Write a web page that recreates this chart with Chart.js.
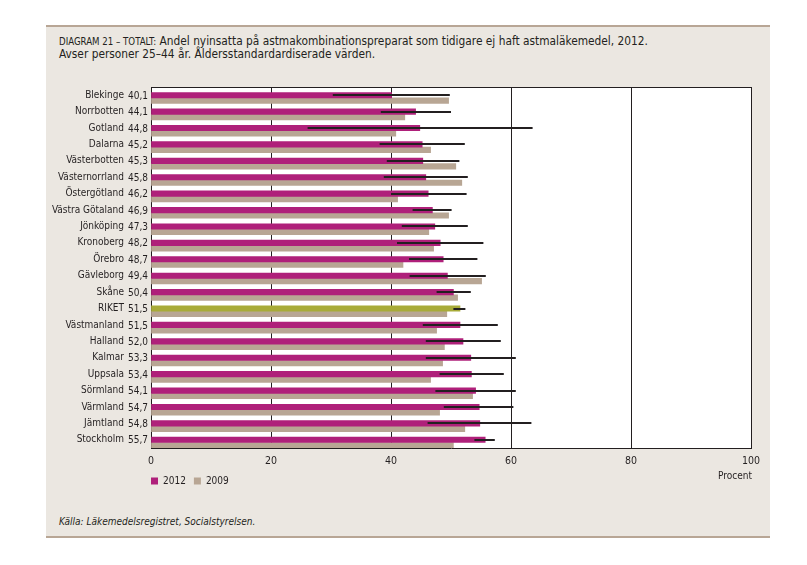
<!DOCTYPE html>
<html>
<head>
<meta charset="utf-8">
<script src="https://cdn.jsdelivr.net/npm/chart.js@4.4.1/dist/chart.umd.min.js"></script>
<style>
html,body{margin:0;padding:0;background:#ffffff;width:807px;height:565px;overflow:hidden;}
#panel{position:absolute;left:46px;top:25px;width:724px;height:513px;background:#ebe7e1;border-top:2px solid #b8a695;border-bottom:2px solid #b8a695;box-sizing:border-box;}
#title{position:absolute;left:59px;top:35px;font-family:"DejaVu Sans Condensed","DejaVu Sans",sans-serif;font-size:11.8px;line-height:13px;color:#231f20;white-space:nowrap;}
#title .caps{font-size:9.6px;}
#source{position:absolute;left:59px;top:516px;font-family:"DejaVu Sans Condensed","DejaVu Sans",sans-serif;font-style:italic;font-size:10px;color:#231f20;white-space:nowrap;}
#wrap{position:absolute;left:47px;top:70px;width:723px;height:426px;}
</style>
</head>
<body>
<div id="panel"></div>
<div id="title"><span class="caps">DIAGRAM 21 – TOTALT:</span> Andel nyinsatta på astmakombinationspreparat som tidigare ej haft astmaläkemedel, 2012.<br>Avser personer 25–44 år. Åldersstandardardiserade värden.</div>
<div id="wrap"><canvas id="c"></canvas></div>
<div id="source">Källa: Läkemedelsregistret, Socialstyrelsen.</div>
<script>
// ---- data ----
const categories = ['Blekinge','Norrbotten','Gotland','Dalarna','Västerbotten','Västernorrland','Östergötland','Västra Götaland','Jönköping','Kronoberg','Örebro','Gävleborg','Skåne','RIKET','Västmanland','Halland','Kalmar','Uppsala','Sörmland','Värmland','Jämtland','Stockholm'];
const values2012 = [40.1,44.1,44.8,45.2,45.3,45.8,46.2,46.9,47.3,48.2,48.7,49.4,50.4,51.5,51.5,52.0,53.3,53.4,54.1,54.7,54.8,55.7];
const values2009 = [49.6,42.3,40.8,46.6,50.8,51.8,41.1,49.6,46.3,47.1,42.0,55.1,51.1,49.3,47.6,48.9,48.6,46.6,53.6,48.1,52.3,50.4];
const ciLow2012  = [30.3,38.3,26.1,38.1,39.3,38.8,40.0,43.6,41.8,41.0,43.0,43.1,47.6,50.4,45.3,45.8,45.8,48.1,47.4,48.8,46.1,53.9];
const ciHigh2012 = [49.8,50.0,63.6,52.3,51.4,52.8,52.6,50.1,52.8,55.4,54.4,55.8,53.3,52.4,57.8,58.3,60.8,58.8,60.8,60.4,63.4,57.3];
const seriesNames = ['2012','2009'];
const axisTitle = 'Procent';
const totalCategory = 'RIKET';

// ---- styling ----
const FONT = '"DejaVu Sans Condensed","DejaVu Sans",sans-serif';
const INK = '#231f20';
const MAGENTA = '#af207a';
const TAN = '#b8a694';
const OLIVE = '#a8ab38';

const frame = {
  id: 'frame',
  beforeDraw(chart) {
    const {ctx, chartArea: a} = chart;
    ctx.save();
    ctx.fillStyle = '#ffffff';
    ctx.fillRect(a.left, a.top, a.right - a.left, a.bottom - a.top);
    ctx.restore();
  },
  beforeDatasetsDraw(chart) {
    const {ctx, chartArea: a} = chart;
    ctx.save();
    ctx.strokeStyle = INK;
    ctx.lineWidth = 1;
    ctx.beginPath();
    ctx.moveTo(a.left, Math.round(a.top) + 0.5);
    ctx.lineTo(a.right, Math.round(a.top) + 0.5);
    ctx.stroke();
    ctx.restore();
  },
  afterLayout(chart) {
    const lg = chart.legend;
    if (lg) { lg.left = chart.chartArea.left - lg.options.labels.padding; }
  },
  afterDatasetsDraw(chart) {
    // confidence intervals of 2012, centred on the 2012 bars
    const {ctx} = chart;
    const xs = chart.scales.x;
    const meta = chart.getDatasetMeta(1);
    ctx.save();
    ctx.strokeStyle = INK;
    ctx.lineWidth = 2;
    meta.data.forEach((bar, i) => {
      const y = Math.round(bar.y);
      ctx.beginPath();
      ctx.moveTo(xs.getPixelForValue(ciLow2012[i]), y);
      ctx.lineTo(xs.getPixelForValue(ciHigh2012[i]), y);
      ctx.stroke();
    });
    ctx.restore();
  },
  afterDraw(chart) {
    const {ctx, chartArea: a} = chart;
    const ys = chart.scales.y;
    ctx.save();
    ctx.fillStyle = INK;
    ctx.font = '10px ' + FONT;
    ctx.textAlign = 'right';
    ctx.textBaseline = 'middle';
    values2012.forEach((v, i) => {
      ctx.fillText(v.toFixed(1).replace('.', ','), a.left - 3, ys.getPixelForValue(i) + 1);
    });
    ctx.fillText(axisTitle, a.right + 1, chart.scales.x.bottom + 8);
    ctx.restore();
  }
};

new Chart(document.getElementById('c'), {
  type: 'bar',
  data: {
    labels: categories,
    datasets: [
      {
        label: '',
        data: categories.map(() => null),
        backgroundColor: 'rgba(0,0,0,0)'
      },
      {
        label: seriesNames[0],
        data: values2012,
        backgroundColor: (ctx) => categories[ctx.dataIndex] === totalCategory ? OLIVE : MAGENTA,
        borderWidth: 0
      },
      {
        label: seriesNames[1],
        data: values2009,
        backgroundColor: TAN,
        borderWidth: 0
      }
    ]
  },
  options: {
    indexAxis: 'y',
    responsive: true,
    maintainAspectRatio: false,
    animation: false,
    devicePixelRatio: 1,
    layout: { padding: { top: 17, right: 19, left: 0, bottom: 0 } },
    datasets: { bar: { categoryPercentage: 1.0, barPercentage: 1.0 } },
    scales: {
      x: {
        type: 'linear', min: 0, max: 100,
        ticks: { stepSize: 20, padding: 7, color: INK, font: { family: FONT, size: 10.5 } },
        grid: { color: INK, lineWidth: 1, drawTicks: false },
        border: { display: true, color: INK, width: 1 },
        afterFit(scale) { scale.height = 20; }
      },
      y: {
        type: 'category', offset: true,
        grid: { display: false, drawTicks: true, tickLength: 27 },
        border: { display: true, color: INK, width: 1 },
        ticks: { padding: 0, color: INK, autoSkip: false, font: { family: FONT, size: 10 } },
        afterFit(scale) { scale.width = 104; }
      }
    },
    plugins: {
      tooltip: { enabled: false },
      legend: {
        position: 'bottom', align: 'start', fullSize: false,
        labels: {
          boxWidth: 7, boxHeight: 7, padding: 8, color: INK,
          font: { family: FONT, size: 10 },
          filter: (item) => seriesNames.includes(item.text)
        }
      }
    }
  },
  plugins: [frame]
});
</script>
</body>
</html>
